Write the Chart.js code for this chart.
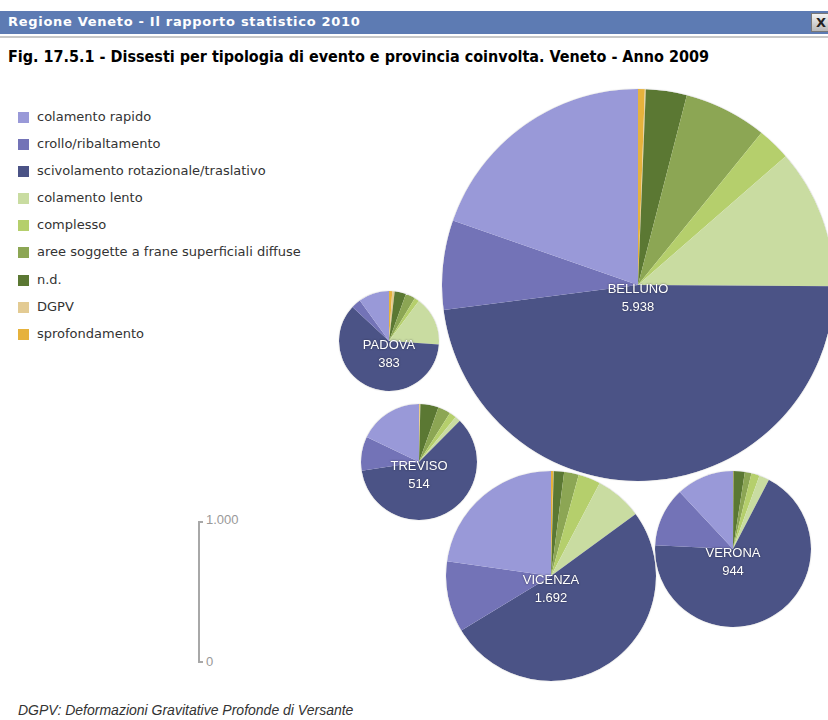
<!DOCTYPE html>
<html lang="it">
<head>
<meta charset="utf-8">
<title>Dissesti per tipologia di evento e provincia - Veneto 2009</title>
<script src="https://cdn.jsdelivr.net/npm/chart.js@4/dist/chart.umd.min.js"></script>
<style>
  html, body { margin: 0; padding: 0; background: #fff; }
  body { width: 828px; height: 720px; overflow: hidden; position: relative; font-family: "Liberation Sans", Arial, sans-serif; }
  #barra { position: absolute; left: 0; top: 11px; width: 828px; height: 23px; background: #5d7bb3; }
  #barra span { position: absolute; left: 8px; top: 3px; color: #fff; font: bold 13px "DejaVu Sans", Tahoma, sans-serif; letter-spacing: 0.7px; }
  #chiudi { position: absolute; left: 811px; top: 13px; width: 26px; height: 19px; background: linear-gradient(#f2f2f2, #b9b9b9); border: 1px solid #777; font: bold 13px "DejaVu Sans", sans-serif; color: #222; padding-left: 4px; box-sizing: border-box; line-height: 18px; }
  #linea { position: absolute; left: 0; top: 36px; width: 828px; height: 2px; background: #c8c8c8; }
  #titolo { position: absolute; left: 8px; top: 47px; font: bold 16px "Liberation Sans Narrow", "DejaVu Sans Condensed", sans-serif; color: #000; white-space: nowrap; }
  #legenda { position: absolute; left: 18px; top: 109px; font: 13px "DejaVu Sans", Tahoma, sans-serif; color: #333; }
  #legenda div { height: 27.1px; display: flex; align-items: flex-start; white-space: nowrap; }
  #legenda i { display: inline-block; width: 11px; height: 11px; margin-right: 8px; margin-top: 3px; }
  #scala { position: absolute; left: 198px; top: 521px; width: 5px; height: 142px; border: 2px solid #a8a8a8; border-right: none; box-sizing: border-box; }
  .tacca { position: absolute; left: 206px; font: 13px "Liberation Sans", Arial, sans-serif; color: #999; }
  #nota { position: absolute; left: 18px; top: 702px; font: italic 14px "Liberation Sans", Arial, sans-serif; color: #333; white-space: nowrap; }
  canvas.torta { position: absolute; border-radius: 50%; box-shadow: 0 0 1px 0 rgba(90,90,90,0.6); }
</style>
</head>
<body>
<div id="barra"><span>Regione Veneto - Il rapporto statistico 2010</span></div>
<div id="chiudi">X</div>
<div id="linea"></div>
<div id="titolo">Fig. 17.5.1 - Dissesti per tipologia di evento e provincia coinvolta. Veneto - Anno 2009</div>
<div id="legenda"></div>
<div id="scala"></div>
<div class="tacca" style="top:512px">1.000</div>
<div class="tacca" style="top:654px">0</div>
<div id="nota">DGPV: Deformazioni Gravitative Profonde di Versante</div>

<script>
// tipologie di evento, nell'ordine della legenda
const tipologie = [
    'colamento rapido',
    'crollo/ribaltamento',
    'scivolamento rotazionale/traslativo',
    'colamento lento',
    'complesso',
    'aree soggette a frane superficiali diffuse',
    'n.d.',
    'DGPV',
    'sprofondamento'
];

const colori = ['#9999d8', '#7373b7', '#4b5386', '#c9dca1', '#b5cf6c', '#8ca654', '#5b7833', '#e3cb93', '#e6b23c'];

const province = ['BELLUNO', 'PADOVA', 'TREVISO', 'VERONA', 'VICENZA'];

// numero di dissesti per tipologia (stesso ordine di "tipologie")
const belluno = [1168, 437, 2843, 683, 163, 406, 200, 5, 33];
const padova  = [38, 12, 233, 61, 6, 12, 14, 3, 4];
const treviso = [92, 49, 309, 8, 10, 18, 26, 1, 1];
const verona  = [113, 116, 643, 20, 16, 13, 22, 0, 1];
const vicenza = [385, 185, 869, 123, 58, 38, 27, 1, 6];

const valori = [belluno, padova, treviso, verona, vicenza];

// posizione dei centri delle torte nella pagina (layout)
const centri = [[638, 285], [389, 341], [419, 462], [733, 549], [551, 576]];
const scalaRaggio = 2.55; // px per radice del totale

function formatta(n) {
    return String(n).replace(/\B(?=(\d{3})+(?!\d))/g, '.');
}

// legenda
var leg = document.getElementById('legenda');
tipologie.forEach(function (t, i) {
    var riga = document.createElement('div');
    riga.innerHTML = '<i style="background:' + colori[i] + '"></i>' + t;
    leg.appendChild(riga);
});

const etichetta = {
    id: 'etichetta',
    afterDraw: function (chart, args, opts) {
        var c = chart.ctx;
        var a = chart.chartArea;
        var x = (a.left + a.right) / 2;
        var y = (a.top + a.bottom) / 2;
        c.save();
        c.font = '13px "Liberation Sans", Arial, sans-serif';
        c.textAlign = 'center';
        c.textBaseline = 'middle';
        c.shadowColor = 'rgba(40,40,60,0.8)';
        c.shadowBlur = 2;
        c.fillStyle = '#ffffff';
        c.fillText(opts.nome, x, y + 4);
        c.fillText(opts.totale, x, y + 22);
        c.restore();
    }
};

function creaTorta(i) {
    var dati = valori[i];
    var totale = dati.reduce(function (s, v) { return s + v; }, 0);
    var r = Math.round(scalaRaggio * Math.sqrt(totale));
    var cv = document.createElement('canvas');
    cv.className = 'torta';
    cv.width = 2 * r;
    cv.height = 2 * r;
    cv.style.left = (centri[i][0] - r) + 'px';
    cv.style.top = (centri[i][1] - r) + 'px';
    document.body.appendChild(cv);

    // in senso orario dalle ore 12 le tipologie sono in ordine inverso rispetto alla legenda
    new Chart(cv.getContext('2d'), {
        type: 'pie',
        data: {
            labels: tipologie.slice().reverse(),
            datasets: [{
                data: dati.slice().reverse(),
                backgroundColor: colori.slice().reverse(),
                borderWidth: 0
            }]
        },
        options: {
            responsive: false,
            animation: false,
            layout: { padding: 0 },
            plugins: {
                legend: { display: false },
                tooltip: { enabled: false },
                etichetta: { nome: province[i], totale: formatta(totale) }
            }
        },
        plugins: [etichetta]
    });
}

for (var i = 0; i < province.length; i++) {
    creaTorta(i);
}
</script>
</body>
</html>
